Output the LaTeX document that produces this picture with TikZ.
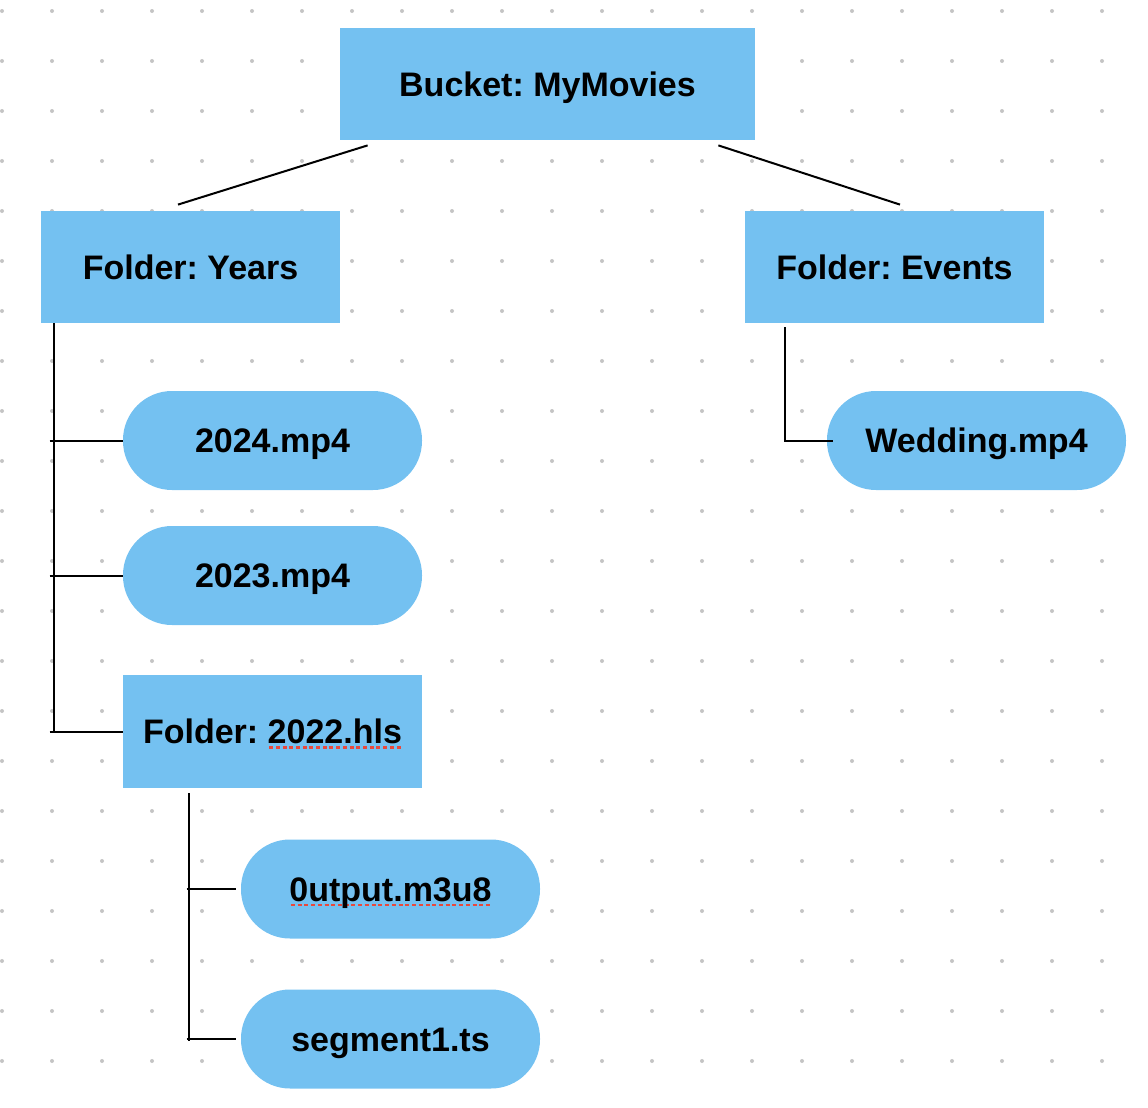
\documentclass[tikz,border=0pt]{standalone}
\usepackage{fontspec}
\setmainfont{Liberation Sans}
\usetikzlibrary{calc}
\frenchspacing
\definecolor{boxblue}{RGB}{116,193,241}
\definecolor{dotgray}{RGB}{196,196,196}
\definecolor{spell}{RGB}{232,72,60}
\newcommand\spellmark[1]{\setbox0\hbox{#1}\rlap{\color{spell}\raisebox{-2.6pt}{\hbox to \wd0{\xleaders\hbox to 3.3pt{\hss\rule{2pt}{1.3pt}\hss}\hfill}}}\box0}
\tikzset{
  folderbox/.style={rectangle, fill=boxblue, inner sep=0pt, minimum width=149.5pt, minimum height=56pt,
    text height=12.2pt, text depth=0pt, font=\fontsize{17}{20}\selectfont\bfseries},
  bucketbox/.style={folderbox, minimum width=207.5pt},
  filepill/.style={rectangle, rounded corners=24.5pt, fill=boxblue, inner sep=0pt, minimum width=149.5pt, minimum height=49.5pt,
    text height=12.2pt, text depth=0pt, font=\fontsize{17}{20}\selectfont\bfseries},
  conn/.style={draw=black, line width=1pt},
}
\begin{document}
\begin{tikzpicture}[x=0.5pt, y=-0.5pt]
\useasboundingbox (0,0) rectangle (1148,1108);
% dotted grid
\foreach \i in {0,...,22} {
  \foreach \j in {0,...,21} {
    \fill[dotgray] ({2+50*\i},{11+50*\j}) circle (1pt);
  }
}
% nodes
\node[bucketbox] (bucket) at (547.5,84) {Bucket: MyMovies};
\node[folderbox] (years) at (190.5,267) {Folder: Years};
\node[folderbox] (events) at (894.5,267) {Folder: Events};
\node[filepill] (t2024) at (272.5,440.5) {2024.mp4};
\node[filepill] (t2023) at (272.5,575.5) {2023.mp4};
\node[folderbox, minimum height=56.5pt] (f2022) at (272.5,731.5) {Folder: \spellmark{2022.hls}};
\node[filepill] (outp) at (390.5,889) {\spellmark{0utput.m3u8}};
\node[filepill] (seg) at (390.5,1039) {segment1.ts};
\node[filepill] (wed) at (976.5,440.5) {Wedding.mp4};
% connectors from bucket
\draw[conn] ($(bucket.south west)+(28,5)$) -- ($(years.north)+(-12.5,-6)$);
\draw[conn] ($(bucket.south east)+(-37,5)$) -- ($(events.north)+(5.5,-6)$);
% Years tree
\coordinate (ys) at ($(years.south west)+(13,0)$);
\draw[conn] (ys) -- (ys |- f2022.west);
\draw[conn] ($(ys |- t2024.west)+(-4,0)$) -- (t2024.west);
\draw[conn] ($(ys |- t2023.west)+(-4,0)$) -- (t2023.west);
\draw[conn] ($(ys |- f2022.west)+(-4,0)$) -- (f2022.west);
% Events tree
\coordinate (es) at ($(events.south west)+(40,4)$);
\draw[conn] (es) |- ($(wed.west)+(6,0)$);
% 2022 tree
\coordinate (fs) at ($(f2022.south west)+(66,5)$);
\draw[conn] (fs) -- ($(fs |- seg.west)+(0,2)$);
\draw[conn] ($(fs |- outp.west)+(-2,0)$) -- ($(outp.west)+(-5,0)$);
\draw[conn] ($(fs |- seg.west)+(-2,0)$) -- ($(seg.west)+(-5,0)$);
\end{tikzpicture}
\end{document}
